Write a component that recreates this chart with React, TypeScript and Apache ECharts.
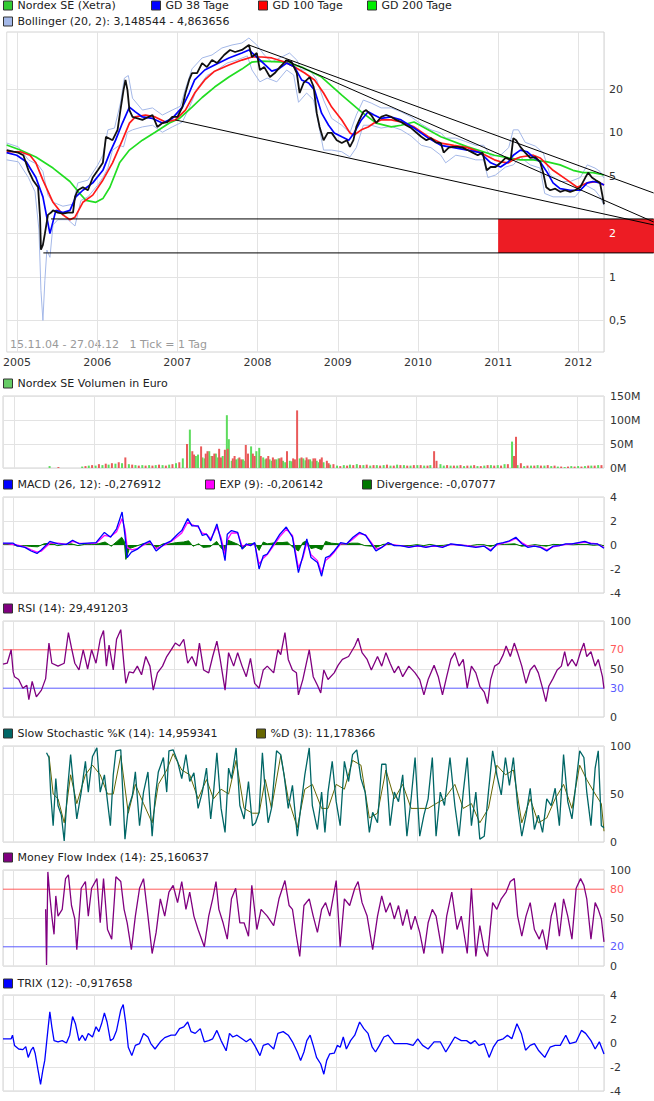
import React, { useEffect, useRef } from 'react';
import * as echarts from 'echarts';

type P = [string, number];

// ---------- axis range / labels ----------
const X_MIN = '2004-11-15';
const X_MAX = '2012-04-27';
const LINE_END = '2012-12-09';
const PRICE_TICKS = [0.5, 1, 2, 5, 10, 20];
const PRICE_MIN = 0.302;
const PRICE_MAX = 50.1;
const RSI_LEVELS = [70, 30];
const MFI_LEVELS = [80, 20];
const ZONE = { start: '2011-01-01', end: LINE_END, top: 2.53, bottom: 1.47 };

// ---------- legend names ----------
const N_PRICE = 'Nordex SE (Xetra)';
const N_GD38 = 'GD 38 Tage';
const N_GD100 = 'GD 100 Tage';
const N_GD200 = 'GD 200 Tage';
const N_BOLL = 'Bollinger (20, 2): 3,148544 - 4,863656';
const N_VOL = 'Nordex SE Volumen in Euro';
const N_MACD = 'MACD (26, 12): -0,276912';
const N_EXP = 'EXP (9): -0,206142';
const N_DIV = 'Divergence: -0,07077';
const N_RSI = 'RSI (14): 29,491203';
const N_K = 'Slow Stochastic %K (14): 14,959341';
const N_D = '%D (3): 11,178366';
const N_MFI = 'Money Flow Index (14): 25,160637';
const N_TRIX = 'TRIX (12): -0,917658';

// ---------- price data ----------
const priceClose: P[] = [
  ['2004-11-15',7.6],['2004-12-16',7.4],['2005-01-07',7.3],['2005-01-30',7.0],['2005-02-22',5.5],['2005-03-15',4.7],['2005-04-07',4.2],['2005-04-16',2.6],['2005-04-20',1.55],['2005-04-29',1.67],['2005-05-08',2.0],['2005-05-22',2.7],['2005-06-05',2.8],['2005-06-14',2.9],['2005-07-06',2.8],['2005-07-29',2.75],['2005-08-21',2.8],['2005-09-13',2.8],['2005-09-22',3.6],['2005-10-05',4.0],['2005-10-28',4.2],['2005-11-20',4.0],['2005-12-12',4.9],['2006-01-04',5.5],['2006-01-27',6.2],['2006-02-10',9.4],['2006-03-12',8.9],['2006-04-04',10.5],['2006-04-17',14.4],['2006-05-01',19.8],['2006-05-10',23.3],['2006-05-19',19.8],['2006-05-28',14.4],['2006-06-11',12.9],['2006-07-26',12.3],['2006-09-10',13.3],['2006-10-02',11.0],['2006-10-25',11.7],['2006-11-17',11.9],['2006-12-09',12.9],['2007-01-02',12.9],['2007-01-24',15.1],['2007-02-07',18.9],['2007-02-24',23.3],['2007-03-09',26.0],['2007-04-01',26.0],['2007-04-24',30.5],['2007-05-16',28.6],['2007-06-08',32.0],['2007-07-01',30.5],['2007-08-02',34.7],['2007-08-29',37.6],['2007-09-21',36.4],['2007-10-22',37.6],['2007-11-23',40.7],['2007-12-07',33.6],['2007-12-29',35.8],['2008-01-12',27.3],['2008-02-01',28.6],['2008-02-27',24.4],['2008-03-20',26.0],['2008-04-12',28.6],['2008-05-13',32.0],['2008-06-05',31.0],['2008-06-28',26.0],['2008-07-11',18.9],['2008-07-29',22.2],['2008-08-26',24.4],['2008-09-13',20.8],['2008-09-27',13.7],['2008-10-10',11.0],['2008-10-28',8.9],['2008-11-16',10.0],['2008-12-04',10.0],['2008-12-27',8.9],['2009-01-19',8.5],['2009-02-11',8.9],['2009-02-25',8.0],['2009-03-13',8.9],['2009-03-26',11.0],['2009-04-09',12.3],['2009-04-27',14.0],['2009-05-10',14.4],['2009-06-02',13.3],['2009-06-25',11.7],['2009-07-17',12.9],['2009-08-09',13.3],['2009-09-01',12.9],['2009-09-24',12.3],['2009-10-16',11.9],['2009-11-08',11.3],['2009-12-01',10.8],['2009-12-23',10.1],['2010-01-16',9.4],['2010-02-08',8.9],['2010-03-01',9.2],['2010-03-23',8.6],['2010-04-15',8.5],['2010-04-28',7.3],['2010-05-21',7.9],['2010-06-08',8.0],['2010-07-01',8.0],['2010-07-23',7.9],['2010-08-15',7.6],['2010-09-07',7.3],['2010-09-30',7.0],['2010-10-22',7.3],['2010-11-10',5.5],['2010-11-28',5.8],['2010-12-20',5.8],['2011-01-12',6.2],['2011-02-04',6.7],['2011-02-27',6.5],['2011-03-11',9.2],['2011-03-24',8.9],['2011-04-12',8.0],['2011-05-04',7.3],['2011-05-27',6.7],['2011-06-19',6.8],['2011-07-11',6.3],['2011-07-25',5.3],['2011-08-08',4.2],['2011-08-26',4.0],['2011-09-18',4.1],['2011-10-10',3.9],['2011-11-02',4.0],['2011-11-25',3.9],['2011-12-17',4.0],['2012-01-10',4.2],['2012-02-02',4.9],['2012-02-15',5.3],['2012-03-03',4.9],['2012-03-21',4.7],['2012-04-09',4.5],['2012-04-18',3.8],['2012-04-27',3.2]
];

const gd38: P[] = [
  ['2004-11-15',7.3],['2004-12-31',7.0],['2005-02-12',6.3],['2005-03-28',4.9],['2005-04-29',3.6],['2005-05-31',2.0],['2005-06-27',2.9],['2005-07-29',2.8],['2005-08-30',2.9],['2005-09-26',3.6],['2005-10-28',4.0],['2005-12-12',4.5],['2006-01-27',5.5],['2006-02-28',7.3],['2006-03-26',8.9],['2006-04-26',11.7],['2006-05-28',15.1],['2006-06-24',14.0],['2006-07-26',12.9],['2006-09-10',12.6],['2006-10-25',11.7],['2006-12-09',12.6],['2007-01-24',15.1],['2007-02-24',18.9],['2007-03-21',23.3],['2007-05-06',27.3],['2007-06-20',29.6],['2007-08-24',33.1],['2007-10-22',35.8],['2007-11-23',37.6],['2007-12-29',33.6],['2008-02-05',29.6],['2008-03-06',26.8],['2008-04-07',27.8],['2008-05-13',30.5],['2008-06-18',28.6],['2008-07-20',23.3],['2008-08-21',22.2],['2008-09-17',19.8],['2008-10-19',13.7],['2008-11-20',11.3],['2008-12-16',10.0],['2009-01-19',9.4],['2009-02-20',8.9],['2009-03-16',10.0],['2009-04-18',12.3],['2009-05-19',14.0],['2009-06-15',13.3],['2009-07-17',12.6],['2009-09-01',12.9],['2009-10-16',12.3],['2009-12-14',10.8],['2010-02-17',9.2],['2010-04-15',8.2],['2010-06-13',7.9],['2010-08-15',7.6],['2010-10-11',7.3],['2010-11-28',6.2],['2011-01-12',5.8],['2011-02-17',6.3],['2011-03-11',7.0],['2011-04-12',7.6],['2011-05-13',7.4],['2011-06-10',6.8],['2011-07-11',6.3],['2011-08-13',5.3],['2011-09-08',4.5],['2011-10-10',4.1],['2011-11-25',4.0],['2012-01-10',4.0],['2012-02-11',4.5],['2012-03-08',4.6],['2012-04-09',4.5],['2012-04-27',4.35]
];

const gd100: P[] = [
  ['2004-11-15',7.4],['2005-01-16',7.4],['2005-03-01',7.0],['2005-03-28',6.2],['2005-04-29',4.7],['2005-06-14',3.3],['2005-07-29',2.7],['2005-08-30',2.5],['2005-09-22',2.6],['2005-10-28',3.3],['2005-12-12',3.7],['2006-01-27',4.7],['2006-03-12',6.2],['2006-04-26',8.9],['2006-05-28',11.7],['2006-06-24',12.9],['2006-08-09',13.3],['2006-09-22',12.9],['2006-11-08',11.9],['2006-12-23',12.3],['2007-02-07',14.4],['2007-03-21',18.9],['2007-05-06',23.3],['2007-06-20',26.8],['2007-08-24',29.6],['2007-10-22',32.0],['2007-12-07',33.6],['2008-01-21',33.6],['2008-03-06',33.1],['2008-05-04',31.0],['2008-06-18',28.6],['2008-08-03',26.0],['2008-09-17',23.3],['2008-10-28',18.9],['2008-12-04',15.1],['2009-01-19',12.3],['2009-02-25',10.0],['2009-03-16',9.67],['2009-04-18',10.5],['2009-05-19',11.0],['2009-06-15',11.7],['2009-07-17',12.3],['2009-09-01',12.3],['2009-10-16',11.9],['2009-12-14',11.0],['2010-02-17',9.4],['2010-04-15',8.5],['2010-06-13',8.2],['2010-08-15',7.9],['2010-10-11',7.3],['2010-12-15',6.5],['2011-01-12',6.3],['2011-02-17',6.2],['2011-03-11',6.5],['2011-04-12',6.8],['2011-06-10',7.0],['2011-07-11',6.7],['2011-09-08',5.5],['2011-11-12',4.7],['2011-12-27',4.2],['2012-02-11',4.5],['2012-03-26',4.6],['2012-04-27',4.35]
];

const gd200: P[] = [
  ['2004-11-15',8.24],['2005-01-16',7.6],['2005-03-28',6.8],['2005-06-14',5.7],['2005-08-30',4.6],['2005-10-14',3.8],['2005-11-11',3.4],['2005-12-26',3.3],['2006-01-27',3.5],['2006-02-28',4.2],['2006-04-13',6.2],['2006-05-28',7.6],['2006-07-26',8.9],['2006-09-22',10.1],['2006-11-26',11.7],['2007-01-11',12.6],['2007-03-09',15.1],['2007-04-24',17.6],['2007-06-20',20.8],['2007-08-24',24.4],['2007-10-22',27.7],['2007-12-07',31.0],['2008-01-21',31.5],['2008-05-04',31.0],['2008-07-20',28.6],['2008-10-19',24.4],['2009-01-19',18.3],['2009-04-18',14.0],['2009-06-25',11.7],['2009-09-01',11.0],['2009-10-16',11.3],['2009-12-14',11.9],['2010-04-15',9.4],['2010-08-15',8.0],['2010-12-15',7.0],['2011-02-17',6.7],['2011-04-12',6.5],['2011-06-10',6.5],['2011-08-13',6.3],['2011-10-10',6.0],['2011-12-08',5.5],['2012-01-23',5.3],['2012-03-08',5.3],['2012-04-27',5.1]
];

const bollUpper: P[] = [
  ['2004-11-15',8.5],['2005-01-07',8.0],['2005-02-22',6.5],['2005-04-07',6.0],['2005-04-29',5.4],['2005-05-22',3.7],['2005-06-14',3.3],['2005-07-29',3.1],['2005-09-13',3.2],['2005-10-05',4.5],['2005-11-20',4.7],['2006-01-04',6.0],['2006-01-27',7.0],['2006-02-19',10.5],['2006-03-21',10.8],['2006-04-17',16.1],['2006-05-05',24.0],['2006-05-23',25.0],['2006-06-11',17.4],['2006-07-26',14.4],['2006-09-10',14.9],['2006-10-25',13.3],['2006-12-09',14.4],['2007-01-15',15.3],['2007-02-07',20.2],['2007-03-09',27.8],['2007-04-24',33.1],['2007-06-08',34.7],['2007-07-23',38.8],['2007-09-07',40.7],['2007-10-22',42.0],['2007-11-23',45.5],['2007-12-29',40.7],['2008-02-01',34.7],['2008-03-06',31.0],['2008-04-20',33.6],['2008-05-26',35.8],['2008-06-28',32.0],['2008-07-20',27.3],['2008-08-26',27.3],['2008-09-27',23.3],['2008-10-28',16.9],['2008-12-04',12.6],['2009-01-19',11.3],['2009-02-25',10.0],['2009-03-26',13.3],['2009-04-27',16.9],['2009-06-02',16.1],['2009-07-17',14.9],['2009-09-01',14.9],['2009-10-16',14.0],['2009-12-01',12.9],['2010-01-16',11.5],['2010-03-01',10.5],['2010-04-15',10.0],['2010-05-07',9.2],['2010-06-22',9.2],['2010-08-07',8.7],['2010-09-21',8.2],['2010-10-27',8.2],['2010-11-28',6.9],['2011-01-12',7.0],['2011-02-18',7.9],['2011-03-11',10.5],['2011-04-03',10.5],['2011-05-04',8.6],['2011-06-19',8.1],['2011-07-25',7.3],['2011-08-26',5.1],['2011-10-10',4.6],['2011-11-25',4.6],['2012-01-10',4.9],['2012-02-11',6.0],['2012-03-17',5.7],['2012-04-09',5.4],['2012-04-27',4.86]
];

const bollLower: P[] = [
  ['2004-11-15',6.5],['2005-01-07',6.3],['2005-02-22',4.9],['2005-03-24',3.9],['2005-04-11',2.12],['2005-04-20',0.81],['2005-04-29',0.5],['2005-05-08',0.95],['2005-05-17',1.54],['2005-05-31',1.37],['2005-06-14',2.3],['2005-07-06',2.5],['2005-08-21',2.5],['2005-09-22',2.26],['2005-10-19',3.4],['2005-11-20',3.6],['2006-01-04',4.35],['2006-01-27',4.9],['2006-02-19',5.7],['2006-03-12',7.6],['2006-04-13',8.2],['2006-05-01',8.0],['2006-05-19',10.1],['2006-06-11',10.5],['2006-07-26',11.0],['2006-09-10',11.3],['2006-10-25',10.1],['2006-12-09',11.0],['2007-01-24',11.9],['2007-02-24',14.9],['2007-04-01',20.2],['2007-05-16',25.0],['2007-07-01',27.3],['2007-08-15',30.5],['2007-09-30',32.0],['2007-11-16',34.2],['2007-12-07',27.3],['2008-01-12',22.6],['2008-02-14',24.0],['2008-03-29',22.6],['2008-05-13',27.3],['2008-06-14',25.2],['2008-07-06',16.3],['2008-08-12',18.9],['2008-09-13',16.9],['2008-10-06',11.3],['2008-10-28',7.6],['2008-12-04',7.6],['2009-01-19',7.4],['2009-02-25',6.8],['2009-03-26',7.9],['2009-04-27',11.3],['2009-06-02',11.3],['2009-07-17',10.8],['2009-09-01',11.1],['2009-10-16',10.5],['2009-12-01',9.5],['2010-01-16',8.2],['2010-03-01',7.9],['2010-04-15',7.0],['2010-05-07',6.2],['2010-06-22',7.0],['2010-08-07',6.8],['2010-09-21',6.5],['2010-10-27',6.5],['2010-11-15',4.9],['2010-12-20',5.1],['2011-02-04',5.8],['2011-03-11',6.0],['2011-04-12',6.8],['2011-05-27',6.0],['2011-07-11',5.7],['2011-08-01',3.8],['2011-09-08',3.6],['2011-11-02',3.6],['2011-12-17',3.6],['2012-02-02',4.35],['2012-03-17',4.0],['2012-04-09',3.6],['2012-04-27',3.15]
];

const trendLines: P[][] = [
  [['2007-11-23',40.7],[LINE_END,3.83]],
  [['2008-05-05',32.0],[LINE_END,2.41]],
  [['2006-12-23',12.3],[LINE_END,2.30]],
  [['2005-06-05',2.53],[LINE_END,2.53]],
  [['2005-05-01',1.47],[LINE_END,1.47]],
];

// ---------- volume (M EUR) ----------
const volUp: P[] = [
  ['2005-06-10',4],['2005-11-05',3],['2005-12-05',5],['2006-01-05',5],['2006-02-05',6],['2006-03-05',7],['2006-04-05',9],['2006-05-05',10],['2006-06-05',8],['2006-07-05',6],['2006-08-05',6],['2006-09-05',6],['2006-10-05',6],['2006-11-05',6],['2006-12-05',7],['2007-01-05',10],['2007-02-05',20],['2007-03-09',80],['2007-04-05',25],['2007-04-15',28],['2007-05-05',22],['2007-05-15',20],['2007-06-05',35],['2007-06-15',25],['2007-07-05',30],['2007-07-15',22],['2007-08-05',25],['2007-08-24',110],['2007-09-02',60],['2007-09-15',15],['2007-10-05',18],['2007-10-15',20],['2007-11-05',18],['2007-11-15',15],['2007-12-12',45],['2008-01-05',35],['2008-01-18',42],['2008-02-05',22],['2008-02-15',18],['2008-03-05',18],['2008-03-15',15],['2008-04-05',18],['2008-04-15',20],['2008-05-05',15],['2008-05-15',12],['2008-06-05',15],['2008-06-15',14],['2008-07-20',20],['2008-08-05',20],['2008-08-15',16],['2008-09-05',18],['2008-09-15',14],['2008-10-05',15],['2008-10-15',12],['2008-11-05',12],['2008-12-05',7],
  ['2009-01-05',5],['2009-02-05',6],['2009-03-05',7],['2009-04-05',8],['2009-05-05',6],['2009-06-05',5],['2009-07-05',6],['2009-08-05',6],['2009-09-05',5],['2009-10-05',7],['2009-11-05',6],['2009-12-05',5],
  ['2010-01-05',6],['2010-02-05',5],['2010-03-05',6],['2010-04-20',8],['2010-05-05',5],['2010-06-05',5],['2010-07-05',5],['2010-08-05',4],['2010-09-05',5],['2010-10-05',4],['2010-11-05',5],['2010-12-05',6],
  ['2011-01-05',6],['2011-02-05',8],['2011-03-11',55],['2011-04-05',6],['2011-05-05',4],['2011-06-05',5],['2011-07-05',6],['2011-08-05',5],['2011-09-05',4],['2011-10-05',3],['2011-11-05',2],['2011-12-05',4],
  ['2012-01-05',4],['2012-02-05',4],['2012-03-05',5],['2012-04-05',6]
];
const volDown: P[] = [
  ['2005-07-20',2],['2005-11-20',4],['2005-12-20',6],['2006-01-20',8],['2006-02-20',9],['2006-03-20',10],['2006-04-20',12],['2006-05-20',22],['2006-06-20',7],['2006-07-20',5],['2006-08-20',5],['2006-09-20',5],['2006-10-20',7],['2006-11-20',5],['2006-12-20',8],['2007-01-20',12],['2007-02-24',50],['2007-03-20',35],['2007-03-28',28],['2007-04-29',45],['2007-05-20',30],['2007-05-28',35],['2007-06-20',25],['2007-06-28',30],['2007-07-20',40],['2007-07-28',22],['2007-08-15',38],['2007-08-28',40],['2007-09-20',20],['2007-09-28',25],['2007-10-20',22],['2007-10-28',18],['2007-11-18',48],['2007-11-28',30],['2007-12-20',30],['2007-12-28',25],['2008-01-25',25],['2008-02-20',20],['2008-02-28',25],['2008-03-20',22],['2008-03-28',18],['2008-04-20',20],['2008-04-28',22],['2008-05-23',35],['2008-06-20',20],['2008-06-28',18],['2008-07-08',120],['2008-07-28',22],['2008-08-20',22],['2008-08-28',18],['2008-09-20',20],['2008-09-28',20],['2008-10-20',18],['2008-10-28',22],['2008-11-20',15],['2008-11-28',10],['2008-12-20',8],
  ['2009-01-20',4],['2009-02-20',5],['2009-03-20',6],['2009-04-20',6],['2009-05-20',7],['2009-06-20',6],['2009-07-20',5],['2009-08-20',7],['2009-09-20',5],['2009-10-20',6],['2009-11-20',5],['2009-12-20',6],
  ['2010-01-20',6],['2010-02-20',5],['2010-03-22',35],['2010-04-02',15],['2010-05-20',6],['2010-06-20',5],['2010-07-20',6],['2010-08-20',5],['2010-09-20',6],['2010-10-20',4],['2010-11-20',6],['2010-12-20',5],
  ['2011-01-20',5],['2011-02-20',8],['2011-03-20',25],['2011-03-29',65],['2011-04-20',10],['2011-05-20',5],['2011-06-20',5],['2011-07-20',5],['2011-08-20',6],['2011-09-20',5],['2011-10-20',3],['2011-11-20',3],['2011-12-20',3],
  ['2012-01-20',3],['2012-02-20',5],['2012-03-20',5],['2012-04-20',6]
];

// ---------- MACD ----------
const macd: P[] = [
  ['2004-11-15',0.15],['2004-12-04',0.15],['2004-12-31',0.15],['2005-01-16',-0.05],['2005-02-22',-0.2],['2005-03-22',-0.5],['2005-04-18',-0.7],['2005-05-08',-0.4],['2005-06-15',0.3],['2005-07-22',0.1],['2005-08-29',0.05],['2005-09-26',0.4],['2005-10-25',0.1],['2005-12-03',0.15],['2006-01-10',0.2],['2006-02-17',1.05],['2006-03-17',0.65],['2006-04-13',1.35],['2006-05-08',2.75],['2006-05-21',0.8],['2006-05-31',-1.05],['2006-06-19',-0.6],['2006-07-16',-0.35],['2006-08-14',0.1],['2006-09-11',0.35],['2006-10-09',-0.5],['2006-11-17',0.1],['2006-12-16',0.35],['2007-01-14',0.9],['2007-02-02',1.2],['2007-03-01',2.2],['2007-03-20',1.6],['2007-04-17',1.6],['2007-05-06',0.8],['2007-05-25',0.9],['2007-06-13',0.35],['2007-07-11',1.75],['2007-07-30',0.35],['2007-08-17',-1.3],['2007-08-27',0.9],['2007-09-15',1.2],['2007-10-13',1.05],['2007-11-02',-0.35],['2007-11-21',0.1],['2007-12-10',-0.05],['2007-12-29',0.2],['2008-01-18',-2.0],['2008-02-06',-0.9],['2008-02-24',-0.75],['2008-03-14',-0.2],['2008-04-02',0.35],['2008-04-21',0.9],['2008-05-20',1.5],['2008-06-17',0.65],['2008-07-14',-2.3],['2008-08-03',-0.9],['2008-08-21',0.5],['2008-09-09',-1.05],['2008-10-08',-1.45],['2008-10-27',-2.6],['2008-11-14',-1.05],['2008-12-03',-0.9],['2008-12-23',-0.5],['2009-01-21',0.2],['2009-02-18',0.1],['2009-03-18',0.65],['2009-04-16',1.05],['2009-05-14',0.8],['2009-06-09',0.1],['2009-06-30',-0.5],['2009-07-26',-0.2],['2009-08-24',0.2],['2009-09-21',-0.05],['2009-10-19',-0.05],['2009-11-26',-0.2],['2010-01-05',-0.05],['2010-02-11',-0.2],['2010-03-20',-0.05],['2010-04-27',-0.2],['2010-06-04',0.1],['2010-07-11',0],['2010-08-17',-0.1],['2010-09-25',-0.2],['2010-11-02',-0.1],['2010-12-01',-0.5],['2010-12-30',0.1],['2011-01-27',0.2],['2011-02-24',0.35],['2011-03-25',0.65],['2011-04-21',0.1],['2011-05-19',-0.2],['2011-06-17',-0.1],['2011-07-15',-0.2],['2011-08-12',-0.5],['2011-09-09',-0.1],['2011-10-08',-0.05],['2011-11-06',0.1],['2011-12-04',0.1],['2012-01-02',0.2],['2012-01-31',0.3],['2012-02-28',0.1],['2012-03-27',0.1],['2012-04-27',-0.277]
];
const macdExp: P[] = [
  ['2004-11-15',0.12],['2004-12-04',0.12],['2005-01-16',0.0],['2005-02-22',-0.15],['2005-03-22',-0.4],['2005-04-18',-0.6],['2005-05-08',-0.5],['2005-06-15',0.15],['2005-07-22',0.15],['2005-08-29',0.05],['2005-09-26',0.3],['2005-10-25',0.15],['2005-12-03',0.12],['2006-01-10',0.15],['2006-02-17',0.8],['2006-03-17',0.7],['2006-04-13',1.1],['2006-05-08',2.2],['2006-05-21',1.3],['2006-05-31',-0.2],['2006-06-19',-0.4],['2006-07-16',-0.3],['2006-08-14',0.0],['2006-09-11',0.25],['2006-10-09',-0.3],['2006-11-17',0.0],['2006-12-16',0.3],['2007-01-14',0.7],['2007-02-02',1.0],['2007-03-01',1.9],['2007-03-20',1.7],['2007-04-17',1.5],['2007-05-06',1.0],['2007-05-25',0.9],['2007-06-13',0.5],['2007-07-11',1.5],['2007-07-30',0.6],['2007-08-17',-0.8],['2007-08-27',0.4],['2007-09-15',1.0],['2007-10-13',1.0],['2007-11-02',-0.1],['2007-11-21',0.0],['2007-12-10',0.0],['2007-12-29',0.1],['2008-01-18',-1.6],['2008-02-06',-1.1],['2008-02-24',-0.8],['2008-03-14',-0.3],['2008-04-02',0.2],['2008-04-21',0.7],['2008-05-20',1.3],['2008-06-17',0.8],['2008-07-14',-1.9],['2008-08-03',-1.1],['2008-08-21',0.2],['2008-09-09',-0.8],['2008-10-08',-1.3],['2008-10-27',-2.3],['2008-11-14',-1.3],['2008-12-03',-1.0],['2008-12-23',-0.6],['2009-01-21',0.1],['2009-02-18',0.1],['2009-03-18',0.5],['2009-04-16',0.95],['2009-05-14',0.85],['2009-06-09',0.2],['2009-06-30',-0.35],['2009-07-26',-0.2],['2009-08-24',0.15],['2009-09-21',0.0],['2009-10-19',-0.05],['2009-11-26',-0.15],['2010-01-05',-0.1],['2010-02-11',-0.15],['2010-03-20',-0.1],['2010-04-27',-0.15],['2010-06-04',0.05],['2010-07-11',0.0],['2010-08-17',-0.05],['2010-09-25',-0.15],['2010-11-02',-0.1],['2010-12-01',-0.4],['2010-12-30',0.0],['2011-01-27',0.15],['2011-02-24',0.3],['2011-03-25',0.55],['2011-04-21',0.2],['2011-05-19',-0.1],['2011-06-17',-0.1],['2011-07-15',-0.15],['2011-08-12',-0.4],['2011-09-09',-0.15],['2011-10-08',-0.05],['2011-11-06',0.05],['2011-12-04',0.1],['2012-01-02',0.15],['2012-01-31',0.25],['2012-02-28',0.15],['2012-03-27',0.1],['2012-04-27',-0.206]
];
const macdDiv: P[] = [
  ['2004-11-15',0.05],['2004-12-20',0.1],['2005-01-20',-0.1],['2005-02-20',-0.05],['2005-03-20',-0.12],['2005-04-20',-0.15],['2005-05-20',0.1],['2005-06-20',0.15],['2005-07-20',-0.05],['2005-08-20',0.05],['2005-09-20',0.1],['2005-10-20',-0.05],['2005-11-20',0.05],['2005-12-20',0.05],['2006-01-20',0.1],['2006-02-20',0.25],['2006-03-20',-0.1],['2006-04-15',0.3],['2006-05-06',0.65],['2006-05-18',0.3],['2006-05-25',-1.2],['2006-06-10',-0.3],['2006-07-10',-0.1],['2006-08-10',0.1],['2006-09-10',0.1],['2006-10-10',-0.2],['2006-11-10',0.1],['2006-12-10',0.1],['2007-01-10',0.2],['2007-02-10',0.25],['2007-03-05',0.35],['2007-03-25',-0.1],['2007-04-20',0.1],['2007-05-10',-0.2],['2007-06-10',-0.15],['2007-07-10',0.3],['2007-08-01',-0.3],['2007-08-17',-0.5],['2007-08-30',0.4],['2007-09-20',0.25],['2007-10-15',0.05],['2007-11-05',-0.3],['2007-12-01',0.1],['2008-01-01',0.1],['2008-01-18',-0.45],['2008-02-06',0.25],['2008-02-24',0.1],['2008-03-15',0.15],['2008-04-05',0.2],['2008-05-01',0.2],['2008-05-25',0.25],['2008-06-20',-0.2],['2008-07-14',-0.5],['2008-08-03',0.2],['2008-08-21',0.35],['2008-09-09',-0.3],['2008-10-01',-0.2],['2008-10-27',-0.4],['2008-11-14',0.3],['2008-12-10',0.15],['2009-01-10',0.1],['2009-02-10',0.05],['2009-03-10',0.15],['2009-04-10',0.15],['2009-05-10',-0.05],['2009-06-10',-0.1],['2009-06-30',-0.2],['2009-08-01',0.05],['2009-09-01',0.1],['2009-10-01',-0.05],['2009-11-01',-0.05],['2009-12-01',-0.05],['2010-01-01',0.03],['2010-02-01',-0.05],['2010-03-01',0.05],['2010-04-01',-0.05],['2010-05-01',-0.03],['2010-06-01',0.05],['2010-07-01',0.03],['2010-08-01',-0.03],['2010-09-01',-0.05],['2010-10-01',0.03],['2010-11-01',0.02],['2010-12-01',-0.12],['2011-01-01',0.08],['2011-02-01',0.05],['2011-03-20',0.1],['2011-04-20',-0.1],['2011-05-20',-0.05],['2011-06-20',0.03],['2011-07-20',-0.05],['2011-08-10',-0.1],['2011-09-10',0.05],['2011-10-10',0.03],['2011-11-10',0.05],['2011-12-10',0.02],['2012-01-10',0.05],['2012-02-10',0.05],['2012-03-10',-0.02],['2012-04-10',0.02],['2012-04-27',-0.07]
];

// ---------- RSI ----------
const rsi: P[] = [
  ['2004-11-15',55],['2004-12-04',56],['2004-12-22',70],['2004-12-31',47],['2005-01-06',42],['2005-01-25',39],['2005-02-13',30],['2005-03-03',33],['2005-03-12',18],['2005-03-27',37],['2005-04-15',21],['2005-05-08',28],['2005-05-27',40],['2005-06-11',77],['2005-06-24',56],['2005-07-22',53],['2005-08-19',56],['2005-09-07',88],['2005-09-21',72],['2005-10-06',56],['2005-10-25',49],['2005-11-13',70],['2005-12-03',50],['2005-12-21',70],['2006-01-10',56],['2006-01-29',81],['2006-02-13',90],['2006-02-26',53],['2006-03-10',75],['2006-03-29',49],['2006-04-13',81],['2006-05-02',91],['2006-05-17',53],['2006-05-25',35],['2006-06-09',47],['2006-06-28',46],['2006-07-16',53],['2006-08-04',44],['2006-08-23',63],['2006-09-11',53],['2006-09-26',28],['2006-10-15',46],['2006-11-07',53],['2006-11-26',63],['2006-12-16',70],['2007-01-04',77],['2007-01-23',74],['2007-02-11',81],['2007-03-01',56],['2007-03-20',63],['2007-04-08',53],['2007-04-23',77],['2007-05-12',49],['2007-06-04',46],['2007-06-22',63],['2007-07-11',79],['2007-07-26',60],['2007-08-17',28],['2007-09-02',67],['2007-09-25',53],['2007-10-13',67],['2007-11-02',53],['2007-11-21',42],['2007-12-10',61],['2007-12-29',35],['2008-01-18',30],['2008-02-06',49],['2008-02-24',53],['2008-03-24',46],['2008-04-12',70],['2008-04-25',65],['2008-05-14',88],['2008-05-29',60],['2008-06-17',49],['2008-07-05',46],['2008-07-14',23],['2008-08-03',39],['2008-09-01',70],['2008-09-19',42],['2008-10-08',33],['2008-10-23',25],['2008-11-06',49],['2008-11-25',39],['2008-12-23',46],['2009-01-10',54],['2009-01-29',60],['2009-02-26',63],['2009-03-26',74],['2009-04-10',82],['2009-04-28',67],['2009-05-21',60],['2009-06-09',49],['2009-07-07',63],['2009-07-26',53],['2009-08-14',67],['2009-09-02',56],['2009-09-21',46],['2009-10-10',53],['2009-10-29',42],['2009-11-26',53],['2009-12-24',46],['2010-01-14',39],['2010-02-02',23],['2010-02-21',39],['2010-03-20',54],['2010-04-08',42],['2010-04-27',23],['2010-05-16',42],['2010-06-04',60],['2010-06-22',67],['2010-07-11',53],['2010-07-30',60],['2010-08-17',30],['2010-09-05',53],['2010-09-25',46],['2010-10-13',32],['2010-11-02',26],['2010-11-17',14],['2010-12-01',39],['2010-12-19',53],['2011-01-08',56],['2011-01-27',65],['2011-02-09',74],['2011-02-28',63],['2011-03-18',77],['2011-04-02',67],['2011-04-21',53],['2011-05-10',35],['2011-05-29',49],['2011-06-17',54],['2011-07-05',46],['2011-07-24',30],['2011-08-08',16],['2011-08-21',32],['2011-09-09',40],['2011-09-28',49],['2011-10-17',53],['2011-11-01',68],['2011-11-15',53],['2011-12-04',60],['2011-12-23',53],['2012-01-12',68],['2012-01-27',77],['2012-02-09',63],['2012-02-28',68],['2012-03-18',53],['2012-04-01',60],['2012-04-20',42],['2012-04-27',29.5]
];

// ---------- Slow Stochastic ----------
const stochK: P[] = [
  ['2005-05-31',93],['2005-06-11',88],['2005-06-19',50],['2005-06-30',17],['2005-07-12',66],['2005-07-22',38],['2005-08-06',28],['2005-08-19',1],['2005-09-02',52],['2005-09-17',91],['2005-10-03',52],['2005-10-15',24],['2005-11-04',52],['2005-11-23',84],['2005-12-06',52],['2005-12-25',89],['2006-01-14',98],['2006-01-29',52],['2006-02-17',70],['2006-03-03',42],['2006-03-16',17],['2006-03-29',70],['2006-04-10',95],['2006-05-02',96],['2006-05-21',3],['2006-06-05',35],['2006-06-24',49],['2006-07-07',73],['2006-07-26',17],['2006-08-13',52],['2006-09-02',73],['2006-09-21',6],['2006-10-04',45],['2006-10-19',73],['2006-11-11',88],['2006-11-26',52],['2006-12-06',95],['2006-12-25',96],['2007-01-14',84],['2007-02-02',66],['2007-02-21',91],['2007-03-10',63],['2007-03-29',72],['2007-04-17',35],['2007-05-06',52],['2007-05-25',77],['2007-06-13',24],['2007-06-26',52],['2007-07-11',93],['2007-07-30',35],['2007-08-17',10],['2007-09-02',77],['2007-09-15',66],['2007-10-06',98],['2007-10-23',38],['2007-11-11',24],['2007-12-01',63],['2007-12-19',17],['2008-01-02',20],['2008-01-18',31],['2008-02-02',93],['2008-02-15',52],['2008-02-28',20],['2008-03-14',35],['2008-04-06',95],['2008-04-25',91],['2008-05-10',70],['2008-05-29',35],['2008-06-17',59],['2008-07-09',6],['2008-07-24',35],['2008-08-12',70],['2008-09-01',98],['2008-09-15',38],['2008-10-08',13],['2008-10-27',52],['2008-11-11',10],['2008-11-25',52],['2008-12-14',84],['2009-01-01',42],['2009-01-19',17],['2009-02-07',84],['2009-02-26',63],['2009-03-16',91],['2009-04-04',96],['2009-04-23',66],['2009-05-12',52],['2009-05-31',10],['2009-06-15',31],['2009-07-07',20],['2009-07-26',81],['2009-08-14',81],['2009-09-02',17],['2009-09-21',52],['2009-10-10',42],['2009-10-29',70],['2009-11-17',6],['2009-12-06',45],['2009-12-24',88],['2010-01-14',6],['2010-02-02',28],['2010-02-21',45],['2010-03-12',88],['2010-03-29',6],['2010-04-17',52],['2010-05-06',38],['2010-05-31',88],['2010-06-22',38],['2010-07-11',6],['2010-07-30',52],['2010-08-17',88],['2010-09-05',17],['2010-09-25',52],['2010-10-13',3],['2010-11-02',6],['2010-11-21',52],['2010-12-10',95],['2010-12-29',70],['2011-01-18',49],['2011-02-06',88],['2011-02-24',59],['2011-03-14',88],['2011-04-02',38],['2011-04-21',6],['2011-05-10',28],['2011-05-29',56],['2011-06-17',13],['2011-07-05',28],['2011-07-24',10],['2011-08-12',45],['2011-09-01',38],['2011-09-19',56],['2011-10-08',17],['2011-10-27',91],['2011-11-15',42],['2011-12-04',24],['2011-12-23',63],['2012-01-08',95],['2012-01-27',88],['2012-02-09',52],['2012-02-28',17],['2012-03-18',77],['2012-04-01',95],['2012-04-15',17],['2012-04-27',15]
];
const stochD: P[] = [
  ['2005-06-11',90],['2005-06-30',50],['2005-07-22',45],['2005-08-19',20],['2005-09-17',70],['2005-10-15',40],['2005-11-23',70],['2005-12-25',80],['2006-01-29',70],['2006-03-03',50],['2006-03-29',50],['2006-05-02',90],['2006-06-05',30],['2006-07-07',60],['2006-08-13',40],['2006-09-21',20],['2006-10-19',60],['2006-11-26',75],['2006-12-25',92],['2007-02-02',75],['2007-03-10',70],['2007-04-17',45],['2007-05-25',65],['2007-06-26',45],['2007-07-30',55],['2007-09-02',50],['2007-10-06',85],['2007-11-11',35],['2007-12-19',30],['2008-01-18',30],['2008-02-15',65],['2008-03-14',35],['2008-04-25',90],['2008-05-29',45],['2008-07-09',15],['2008-08-12',55],['2008-09-15',60],['2008-10-27',35],['2008-11-25',35],['2009-01-01',60],['2009-02-07',55],['2009-03-16',85],['2009-04-23',80],['2009-05-31',25],['2009-07-07',30],['2009-08-14',75],['2009-09-21',45],['2009-10-29',60],['2009-12-06',35],['2010-01-14',35],['2010-02-21',35],['2010-03-29',40],['2010-05-06',45],['2010-06-22',60],['2010-07-30',35],['2010-09-05',40],['2010-10-13',20],['2010-11-21',35],['2010-12-29',80],['2011-02-06',70],['2011-03-14',75],['2011-04-21',20],['2011-05-29',45],['2011-07-05',20],['2011-08-12',25],['2011-09-19',45],['2011-10-27',60],['2011-12-04',35],['2012-01-08',80],['2012-02-09',65],['2012-03-18',50],['2012-04-15',40],['2012-04-27',11.2]
];

// ---------- Money Flow Index ----------
const mfi: P[] = [
  ['2005-05-27',59],['2005-05-31',1],['2005-06-06',98],['2005-06-15',73],['2005-06-24',52],['2005-07-04',33],['2005-07-12',73],['2005-07-22',52],['2005-08-10',59],['2005-08-25',91],['2005-09-07',95],['2005-09-21',63],['2005-10-06',49],['2005-10-15',17],['2005-11-04',81],['2005-11-23',88],['2005-12-06',52],['2005-12-21',81],['2006-01-14',91],['2006-01-29',45],['2006-02-13',91],['2006-03-03',38],['2006-03-22',28],['2006-04-10',93],['2006-05-02',88],['2006-05-17',59],['2006-05-31',45],['2006-06-19',17],['2006-07-07',52],['2006-07-26',81],['2006-08-13',91],['2006-09-02',52],['2006-09-21',13],['2006-10-09',35],['2006-10-28',70],['2006-11-17',52],['2006-12-06',77],['2006-12-25',84],['2007-01-14',66],['2007-02-02',88],['2007-02-21',59],['2007-03-10',77],['2007-03-29',52],['2007-04-17',38],['2007-05-15',20],['2007-06-04',52],['2007-06-22',70],['2007-07-07',88],['2007-07-20',59],['2007-08-08',45],['2007-08-27',28],['2007-09-15',70],['2007-10-04',81],['2007-10-23',45],['2007-11-11',45],['2007-12-01',31],['2007-12-16',84],['2008-01-08',38],['2008-01-27',59],['2008-02-24',52],['2008-03-24',42],['2008-04-17',70],['2008-05-14',89],['2008-06-02',63],['2008-06-17',59],['2008-07-05',31],['2008-07-20',10],['2008-08-08',63],['2008-09-01',70],['2008-09-19',52],['2008-10-08',35],['2008-10-27',59],['2008-11-14',66],['2008-12-03',52],['2009-01-01',89],['2009-01-19',20],['2009-02-07',70],['2009-03-03',63],['2009-03-26',81],['2009-04-10',88],['2009-04-28',66],['2009-05-21',52],['2009-06-15',17],['2009-07-07',52],['2009-07-26',73],['2009-08-14',56],['2009-09-02',66],['2009-09-21',49],['2009-10-10',63],['2009-10-29',42],['2009-11-17',59],['2009-12-06',38],['2009-12-24',52],['2010-01-14',35],['2010-02-02',13],['2010-02-21',45],['2010-03-12',59],['2010-03-29',52],['2010-04-27',13],['2010-05-16',52],['2010-06-08',77],['2010-07-02',38],['2010-07-21',52],['2010-08-17',13],['2010-09-05',81],['2010-09-25',10],['2010-10-13',42],['2010-11-02',17],['2010-11-17',10],['2010-12-10',66],['2010-12-29',59],['2011-01-18',70],['2011-02-09',77],['2011-02-28',88],['2011-03-18',91],['2011-04-02',52],['2011-04-21',31],['2011-05-10',52],['2011-05-29',66],['2011-06-17',38],['2011-07-09',28],['2011-07-24',38],['2011-08-12',17],['2011-09-01',52],['2011-09-19',66],['2011-10-08',31],['2011-10-27',70],['2011-11-15',52],['2011-12-04',28],['2011-12-23',81],['2012-01-12',91],['2012-01-27',84],['2012-02-09',70],['2012-02-28',28],['2012-03-18',66],['2012-04-01',59],['2012-04-15',49],['2012-04-27',25.2]
];

// ---------- TRIX ----------
const trix: P[] = [
  ['2004-11-15',0.35],['2004-11-24',0.35],['2004-12-22',0.35],['2004-12-28',0.65],['2005-01-06',-0.2],['2005-01-25',-0.5],['2005-02-13',-0.55],['2005-02-26',-0.3],['2005-03-09',-1.2],['2005-03-22',-0.6],['2005-04-01',-0.35],['2005-04-10',-0.9],['2005-04-23',-2.3],['2005-05-04',-3.45],['2005-05-14',-2.3],['2005-05-23',-1.45],['2005-06-06',1.05],['2005-06-15',2.6],['2005-06-24',1.35],['2005-07-04',0.2],['2005-07-22',0.1],['2005-08-10',0.2],['2005-08-29',0.0],['2005-09-13',0.65],['2005-09-26',2.2],['2005-10-09',1.6],['2005-10-25',0.2],['2005-11-09',0.65],['2005-11-23',0.2],['2005-12-06',0.8],['2005-12-25',0.5],['2006-01-10',1.35],['2006-01-23',0.95],['2006-02-04',1.6],['2006-02-17',2.5],['2006-03-01',1.75],['2006-03-16',0.2],['2006-03-29',0.35],['2006-04-13',1.05],['2006-05-02',2.75],['2006-05-13',3.2],['2006-05-25',1.6],['2006-06-05',-0.35],['2006-06-21',-1.05],['2006-07-07',-0.2],['2006-07-26',-0.05],['2006-08-13',0.8],['2006-09-02',0.5],['2006-09-15',-0.05],['2006-10-04',-0.5],['2006-10-28',0.1],['2006-11-17',0.45],['2006-12-16',0.65],['2007-01-04',0.65],['2007-01-23',1.2],['2007-02-11',1.35],['2007-03-01',1.75],['2007-03-16',0.95],['2007-04-04',0.8],['2007-04-27',1.2],['2007-05-15',0.1],['2007-06-04',0.2],['2007-06-22',0.35],['2007-07-11',1.05],['2007-07-30',0.2],['2007-08-22',-0.65],['2007-09-06',0.8],['2007-09-21',0.5],['2007-10-10',0.65],['2007-11-02',0.35],['2007-11-21',0.1],['2007-12-10',0.35],['2007-12-29',-0.2],['2008-01-22',-1.05],['2008-02-06',-0.2],['2008-02-28',-0.05],['2008-03-24',-0.5],['2008-04-12',0.8],['2008-05-06',0.95],['2008-05-29',0.65],['2008-06-17',0.1],['2008-07-09',-0.75],['2008-07-24',-1.45],['2008-08-08',-0.75],['2008-08-21',0.2],['2008-09-05',0.65],['2008-09-19',-0.2],['2008-10-04',-1.2],['2008-10-23',-1.75],['2008-11-06',-2.6],['2008-11-19',-1.45],['2008-12-03',-0.9],['2008-12-23',-0.85],['2009-01-06',-0.2],['2009-01-19',-0.35],['2009-02-02',0.5],['2009-02-16',-0.5],['2009-03-07',0.2],['2009-03-26',0.65],['2009-04-17',1.75],['2009-05-06',1.2],['2009-05-25',0.8],['2009-06-13',-0.35],['2009-06-28',-0.75],['2009-07-16',-0.2],['2009-08-05',0.5],['2009-08-24',0.65],['2009-09-21',-0.05],['2009-10-19',-0.05],['2009-11-17',-0.05],['2009-12-15',-0.2],['2010-01-05',0.35],['2010-01-27',-0.2],['2010-02-21',-0.5],['2010-03-20',0.1],['2010-04-17',0.1],['2010-05-12',-0.75],['2010-06-04',-0.05],['2010-06-22',0.5],['2010-07-21',0.2],['2010-08-14',0.2],['2010-09-02',-0.05],['2010-09-21',0.2],['2010-10-09',-0.2],['2010-11-02',-0.05],['2010-11-24',-1.2],['2010-12-13',-0.35],['2011-01-02',0.2],['2011-01-27',0.35],['2011-02-15',0.65],['2011-03-07',0.35],['2011-03-30',1.6],['2011-04-19',0.8],['2011-05-08',-0.6],['2011-05-29',-0.2],['2011-06-17',-0.05],['2011-07-05',-0.6],['2011-08-03',-1.2],['2011-08-27',-0.35],['2011-09-19',-0.2],['2011-10-12',-0.2],['2011-11-06',0.65],['2011-11-24',-0.05],['2011-12-23',0.1],['2012-01-16',1.05],['2012-02-04',0.8],['2012-02-28',0.2],['2012-03-18',-0.5],['2012-04-06',0.1],['2012-04-27',-0.92]
];

// ---------- styling ----------
const FONT = 'DejaVu Sans';
const TXT = '#333';
const GRIDLINE = '#e3e3e3';
const HI = '#ff5a5a';
const LO = '#5a5aff';
const ts = (s: string) => new Date(s + 'T00:00:00').getTime();

const PANELS = [
  { top: 32, height: 320 },
  { top: 396, height: 72 },
  { top: 497, height: 96 },
  { top: 621, height: 96 },
  { top: 746, height: 96 },
  { top: 870, height: 96 },
  { top: 995, height: 96 },
];

const legendItem = (name: string, color: string, left: number, top: number) => ({
  left, top, padding: 0, itemWidth: 9, itemHeight: 9, selectedMode: false, icon: 'rect',
  textStyle: { fontFamily: FONT, fontSize: 11, color: '#222' },
  data: [{ name, icon: 'rect', itemStyle: { color, borderColor: '#333', borderWidth: 1 } }],
});

const line = (name: string, data: P[], color: string, grid: number, width = 1.2, z = 3, extra: any = {}) => ({
  type: 'line', name, data, xAxisIndex: grid, yAxisIndex: grid, showSymbol: false, symbol: 'none',
  lineStyle: { color, width }, itemStyle: { color }, z, silent: true, animation: false, ...extra,
});

// horizontal threshold line drawn as a two-point series across the panel
const level = (grid: number, value: number, color: string) => ({
  type: 'line', name: 'level' + grid + '_' + value, data: [[ts(X_MIN), value], [ts(X_MAX), value]],
  xAxisIndex: grid, yAxisIndex: grid, showSymbol: false, symbol: 'none', silent: true, animation: false, z: 2,
  lineStyle: { color, width: 1 }, itemStyle: { color },
  endLabel: { show: true, formatter: String(value), color, fontFamily: FONT, fontSize: 11, distance: 6 },
});

export default function App() {
  const ref = useRef<HTMLDivElement>(null);
  useEffect(() => {
    const el = ref.current!;
    const chart = echarts.init(el, undefined, { renderer: 'svg' });
    const labelStyle = { color: TXT, fontFamily: FONT, fontSize: 11 };

    const osc = (g: number, min: number, max: number, interval: number) => ({
      type: 'value', gridIndex: g, position: 'right', min, max, interval,
      axisLine: { show: false }, axisTick: { show: false },
      axisLabel: { ...labelStyle, margin: 6 }, splitLine: { lineStyle: { color: GRIDLINE } },
    });
    const yAxes: any[] = [
      { type: 'log', logBase: 10, gridIndex: 0, position: 'right', min: PRICE_MIN, max: PRICE_MAX,
        axisLine: { show: false }, axisTick: { show: false, customValues: PRICE_TICKS },
        axisLabel: { ...labelStyle, margin: 5, customValues: PRICE_TICKS, formatter: (v: number) => String(v).replace('.', ',') },
        splitLine: { show: true, lineStyle: { color: GRIDLINE } } },
      { type: 'value', gridIndex: 1, position: 'right', min: 0, max: 150, interval: 50,
        axisLine: { show: false }, axisTick: { show: false },
        axisLabel: { ...labelStyle, margin: 6, formatter: '{value}M' }, splitLine: { lineStyle: { color: GRIDLINE } } },
      osc(2, -4, 4, 2),
      osc(3, 0, 100, 50),
      osc(4, 0, 100, 50),
      osc(5, 0, 100, 50),
      osc(6, -4, 4, 2),
    ];

    const option: any = {
      animation: false,
      backgroundColor: '#fff',
      grid: PANELS.map((p) => ({ left: 3, width: 601, top: p.top, height: p.height, show: true,
        borderColor: '#d2d2d2', borderWidth: 1, backgroundColor: 'transparent' })),
      xAxis: PANELS.map((_, i) => ({
        type: 'time', gridIndex: i, min: ts(X_MIN), max: ts(X_MAX), splitNumber: 7,
        axisLine: { show: false }, axisTick: { show: false },
        axisLabel: i === 0 ? { ...labelStyle, margin: 5, formatter: '{yyyy}', hideOverlap: false } : { show: false },
        splitLine: { show: true, lineStyle: { color: GRIDLINE, width: 1 } },
      })),
      yAxis: yAxes,
      legend: [
        legendItem(N_PRICE, '#33cc33', 3, 0),
        legendItem(N_GD38, '#0000ff', 151, 0),
        legendItem(N_GD100, '#ff0000', 258, 0),
        legendItem(N_GD200, '#00ee00', 367, 0),
        legendItem(N_BOLL, '#a4b8e8', 3, 16),
        legendItem(N_VOL, '#66cc66', 3, 378),
        legendItem(N_MACD, '#0000ff', 3, 479),
        legendItem(N_EXP, '#ff00ff', 205, 479),
        legendItem(N_DIV, '#007700', 362, 479),
        legendItem(N_RSI, '#800080', 3, 603),
        legendItem(N_K, '#006666', 3, 728),
        legendItem(N_D, '#666600', 256, 728),
        legendItem(N_MFI, '#800080', 3, 852),
        legendItem(N_TRIX, '#0000ff', 3, 978),
      ],
      graphic: [
        { id: 'period', type: 'text', left: 10, top: 339, silent: true,
          style: { text: '15.11.04 - 27.04.12   1 Tick = 1 Tag', fill: '#9a9a9a', font: `11px "${FONT}"` } },
      ],
      series: [
        line(N_BOLL, bollUpper, '#a4b8e8', 0, 1, 2),
        line(N_BOLL, bollLower, '#a4b8e8', 0, 1, 2),
        line(N_GD200, gd200, '#22dd22', 0, 1.7, 3),
        line(N_GD100, gd100, '#ff1a1a', 0, 1.7, 3),
        line(N_GD38, gd38, '#0000ff', 0, 1.7, 3),
        line(N_PRICE, priceClose, '#111', 0, 1.8, 4),
        { type: 'bar', name: N_VOL, data: volUp, xAxisIndex: 1, yAxisIndex: 1, barWidth: 2, barGap: '-100%',
          itemStyle: { color: '#5ddc5d' }, silent: true, animation: false },
        { type: 'bar', name: 'volDown', data: volDown, xAxisIndex: 1, yAxisIndex: 1, barWidth: 2, barGap: '-100%',
          itemStyle: { color: '#e95a5a' }, silent: true, animation: false },
        line(N_DIV, macdDiv, '#007700', 2, 1, 2, { areaStyle: { color: '#007700', opacity: 1 } }),
        line(N_EXP, macdExp, '#ff00ff', 2, 1.3, 3),
        line(N_MACD, macd, '#0000ff', 2, 1.3, 4),
        level(3, RSI_LEVELS[0], HI),
        level(3, RSI_LEVELS[1], LO),
        line(N_RSI, rsi, '#800080', 3, 1.3, 3),
        line(N_D, stochD, '#666600', 4, 1, 3),
        line(N_K, stochK, '#006666', 4, 1.3, 4),
        level(5, MFI_LEVELS[0], HI),
        level(5, MFI_LEVELS[1], LO),
        line(N_MFI, mfi, '#800080', 5, 1.3, 3),
        line(N_TRIX, trix, '#0000ff', 6, 1.3, 3),
      ],
    };
    chart.setOption(option);

    const toPx = (d: string, v: number) => chart.convertToPixel({ xAxisIndex: 0, yAxisIndex: 0 }, [ts(d), v]) as number[];
    const w = chart.getWidth();
    const a = toPx(ZONE.start, ZONE.top);
    const b = toPx(ZONE.end, ZONE.bottom);
    const lab = toPx(X_MAX, 2);
    const trendGraphics = trendLines.map((seg, i) => {
      const p1 = toPx(seg[0][0], seg[0][1]);
      const p2 = toPx(seg[1][0], seg[1][1]);
      return { id: 'trend' + i, type: 'line', z: 5, silent: true,
        shape: { x1: p1[0], y1: p1[1], x2: p2[0], y2: p2[1] }, style: { stroke: '#000', lineWidth: 1 } };
    });
    chart.setOption({
      graphic: [
        { id: 'period', type: 'text', left: 10, top: 339, silent: true,
          style: { text: '15.11.04 - 27.04.12   1 Tick = 1 Tag', fill: '#9a9a9a', font: `11px "${FONT}"` } },
        { id: 'zone', type: 'rect', z: 1, silent: true,
          shape: { x: a[0], y: a[1], width: Math.max(w, b[0]) - a[0], height: b[1] - a[1] }, style: { fill: '#ed1c24' } },
        { id: 'zoneLabel', type: 'text', z: 6, silent: true, x: lab[0] + 5, y: lab[1] - 6,
          style: { text: '2', fill: '#fff', font: `11px "${FONT}"` } },
        ...trendGraphics,
      ],
    });
    return () => chart.dispose();
  }, []);
  return <div ref={ref} style={{ position: 'absolute', left: 0, top: 0, width: 654, height: 1101, background: '#fff' }} />;
}
